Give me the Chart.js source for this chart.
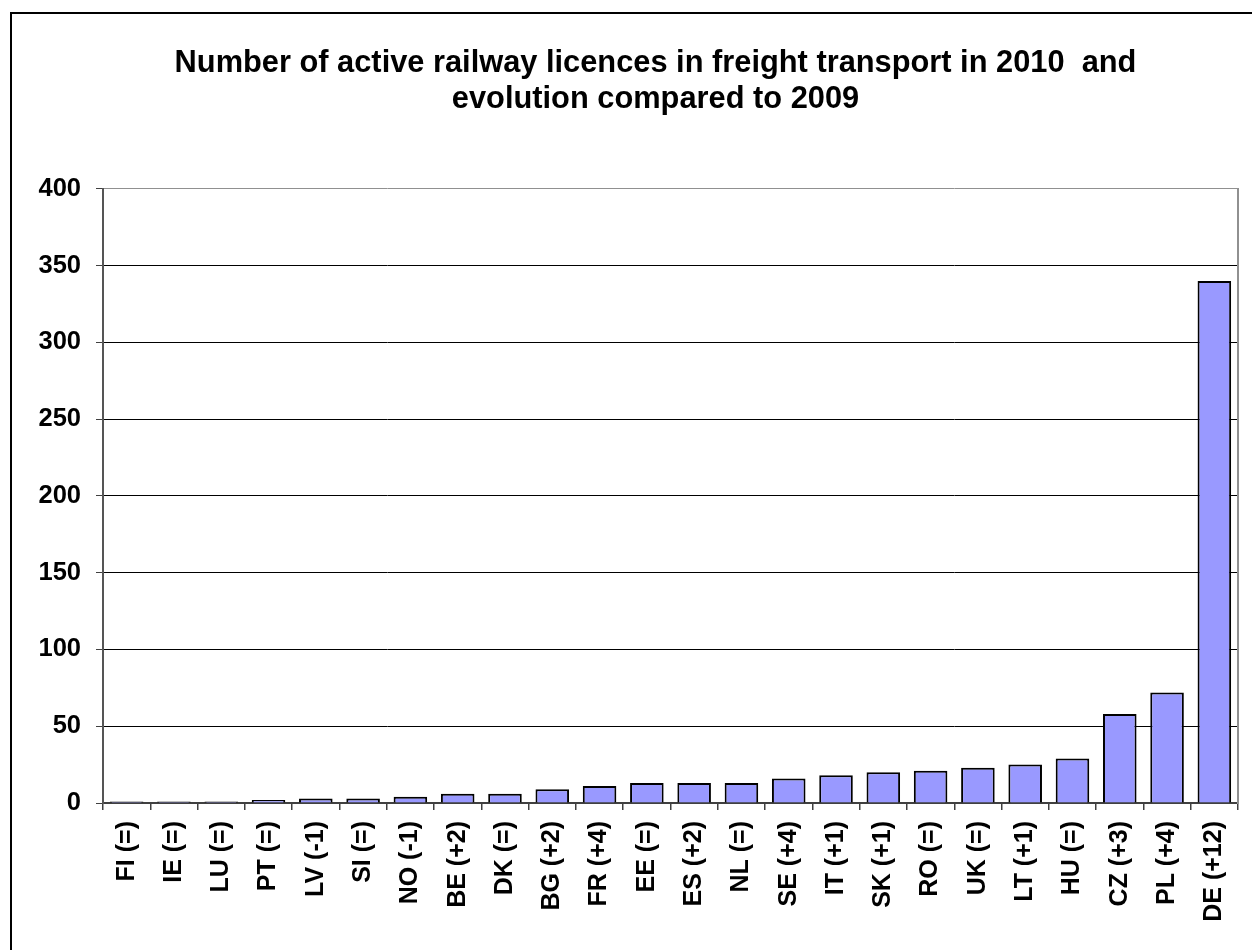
<!DOCTYPE html>
<html>
<head>
<meta charset="utf-8">
<script src="https://cdn.jsdelivr.net/npm/chart.js@4"></script>
<style>
  html, body { margin: 0; padding: 0; background: #fff; }
  #wrap { position: relative; width: 1252px; height: 950px; overflow: hidden; }
  #frame { position: absolute; left: 10px; top: 12px; width: 1300px; height: 1000px;
           border-left: 2px solid #000; border-top: 2px solid #000; pointer-events: none; }
  canvas { position: absolute; left: 0; top: 0; }
</style>
</head>
<body>
<div id="wrap">
  <canvas id="c" width="1252" height="950"></canvas>
  <div id="frame"></div>
</div>
<script>
const titleLines = ["Number of active railway licences in freight transport in 2010  and", "evolution compared to 2009"];
const categories = ["FI (=)","IE (=)","LU (=)","PT (=)","LV (-1)","SI (=)","NO (-1)","BE (+2)","DK (=)","BG (+2)","FR (+4)","EE (=)","ES (+2)","NL (=)","SE (+4)","IT (+1)","SK (+1)","RO (=)","UK (=)","LT (+1)","HU (=)","CZ (+3)","PL (+4)","DE (+12)"];
const licences = [1,1,1,2,3,3,4,6,6,9,11,13,13,13,16,18,20,21,23,25,29,58,72,340];
const yTicks = [0,50,100,150,200,250,300,350,400];

const FONT = "'Liberation Sans', Arial, sans-serif";

new Chart(document.getElementById('c'), {
  type: 'bar',
  data: {
    labels: categories,
    datasets: [{
      data: licences,
      backgroundColor: '#9999FF',
      borderColor: '#000000',
      borderWidth: 2,
      barPercentage: 0.71,
      categoryPercentage: 1.0
    }]
  },
  options: {
    responsive: false,
    animation: false,
    devicePixelRatio: 1,
    layout: { padding: { left: 30, right: -29, top: 0, bottom: 0 } },
    plugins: {
      legend: { display: false },
      tooltip: { enabled: false },
      title: {
        display: true,
        text: titleLines,
        color: '#000',
        font: { family: FONT, size: 30.8, weight: 'bold', lineHeight: 1.15 },
        padding: { top: 46, bottom: 72 }
      }
    },
    scales: {
      x: {
        grid: { display: true, drawOnChartArea: false, drawTicks: true, tickLength: 7, offset: true, color: '#404040', lineWidth: 1.5 },
        border: { display: true, color: '#404040', width: 2 },
        ticks: {
          color: '#000',
          font: { family: FONT, size: 25, weight: 'bold' },
          minRotation: 90, maxRotation: 90, padding: 11, autoSkip: false
        },
        afterFit: (s) => { s.height = 147; s.paddingLeft = 0; s.paddingRight = 0; }
      },
      y: {
        min: 0, max: 400,
        afterBuildTicks: (s) => { s.ticks = yTicks.map(v => ({ value: v })); },
        grid: {
          drawTicks: true, tickLength: 7,
          color: (ctx) => (ctx.tick && ctx.tick.value === 400) ? '#909090' : '#000000',
          tickColor: '#404040',
          lineWidth: 1
        },
        border: { display: true, color: '#555555', width: 2 },
        ticks: {
          color: '#000',
          font: { family: FONT, size: 25.5, weight: 'bold' },
          padding: 15
        },
        afterFit: (s) => { s.width = 73; }
      },
      yRight: {
        position: 'right',
        min: 0, max: 400,
        grid: { display: false, drawOnChartArea: false, drawTicks: false },
        border: { display: true, color: '#909090', width: 2 },
        ticks: { display: false },
        afterFit: (s) => { s.width = 43; }
      }
    }
  }
});
</script>
</body>
</html>
